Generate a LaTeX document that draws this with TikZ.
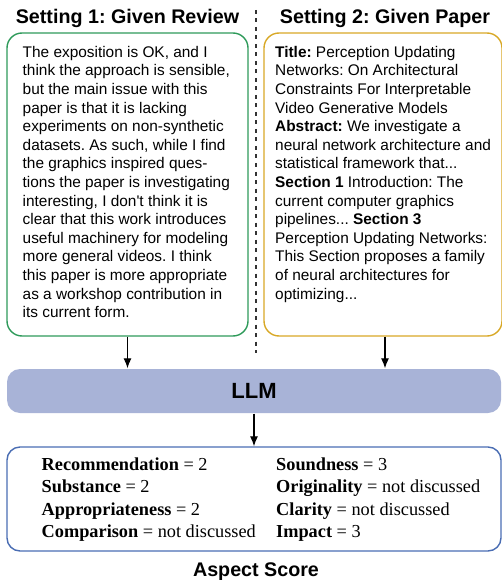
\documentclass[tikz,border=0pt]{standalone}
\usepackage{fontspec}
\setmainfont{Liberation Serif}
\setsansfont{Liberation Sans}
\usetikzlibrary{positioning}
\usetikzlibrary{arrows.meta}
\frenchspacing

\definecolor{reviewgreen}{HTML}{2E9A5A}
\definecolor{papergold}{HTML}{D8A826}
\definecolor{llmfill}{HTML}{A8B3D7}
\definecolor{scoreblue}{HTML}{4A6DB3}

\begin{document}
\begin{tikzpicture}[
    x=1pt, y=-1pt,
    heading/.style={font=\sffamily\bfseries\fontsize{19.7}{23}\selectfont, anchor=base, inner sep=0},
    box/.style={draw, line width=1.4pt, rounded corners=15pt, inner sep=0},
    bodytext/.style={font=\sffamily\fontsize{15.4}{18.6}\selectfont, align=left, anchor=north west, inner sep=0},
    scoretext/.style={font=\fontsize{18.3}{22.3}\selectfont, align=left, anchor=north west, inner sep=0},
    divider/.style={draw=black!80, line width=1.3pt, dash pattern=on 4pt off 4.5pt},
    arr/.style={-{Latex[length=10pt,width=8pt]}, line width=1.1pt}
    ]

    \useasboundingbox (0,0) rectangle (502,580);

    \node[heading] (head1) at (127.5,23.5) {Setting 1: Given Review};
    \node[heading] (head2) at (385,23.5) {Setting 2: Given Paper};

    \node[box, draw=reviewgreen, minimum width=241pt, minimum height=303pt] (review) at (127.5,184.5) {};
    \node[box, draw=papergold, minimum width=238pt, minimum height=303pt] (paper) at (383,184.5) {};

    \node[bodytext] (reviewtxt) at (22.5,46) {The exposition is OK, and I\\
      think the approach is sensible,\\
      but the main issue with this\\
      paper is that it is lacking\\
      experiments on non-synthetic\\
      datasets. As such, while I find\\
      the graphics inspired ques-\\
      tions the paper is investigating\\
      interesting, I don\textquotesingle t think it is\\
      clear that this work introduces\\
      useful machinery for modeling\\
      more general videos. I think\\
      this paper is more appropriate\\
      as a workshop contribution in\\
      its current form.};

    \node[bodytext] (papertxt) at (275,46) {\textbf{Title:} Perception Updating\\
      Networks: On Architectural\\
      Constraints For Interpretable\\
      Video Generative Models\\
      \textbf{Abstract:} We investigate a\\
      neural network architecture and\\
      statistical framework that...\\
      \textbf{Section 1} Introduction: The\\
      current computer graphics\\
      pipelines... \textbf{Section 3}\\
      Perception Updating Networks:\\
      This Section proposes a family\\
      of neural architectures for\\
      optimizing...};

    \node[box, draw=none, fill=llmfill, rounded corners=13pt, minimum width=494pt, minimum height=44pt,
      font=\sffamily\bfseries\fontsize{22}{26}\selectfont] (llm) at (254,391) {LLM};

    \node[box, draw=scoreblue, rounded corners=13pt, minimum width=494pt, minimum height=104pt] (scores) at (254,499) {};
    \node[scoretext] (leftscores) at (41.5,457.5) {\textbf{Recommendation} = 2\\
      \textbf{Substance} = 2\\
      \textbf{Appropriateness} = 2\\
      \textbf{Comparison} = not discussed};
    \node[scoretext] (rightscores) at (276,457.5) {\textbf{Soundness} = 3\\
      \textbf{Originality} = not discussed\\
      \textbf{Clarity} = not discussed\\
      \textbf{Impact} = 3};

    \node[heading] (aspect) at (256,576.5) {Aspect Score};

    \coordinate (divtop) at (256,10);
    \coordinate (divbot) at (256,353);
    \draw[divider] (divtop) -- (divbot);

    \path (review.south) edge[arr] (review.south |- llm.north)
    ([xshift=2pt]paper.south) edge[arr] ([xshift=2pt]paper.south |- llm.north)
    (llm.south) edge[arr] (scores.north)
    ;

\end{tikzpicture}
\end{document}
